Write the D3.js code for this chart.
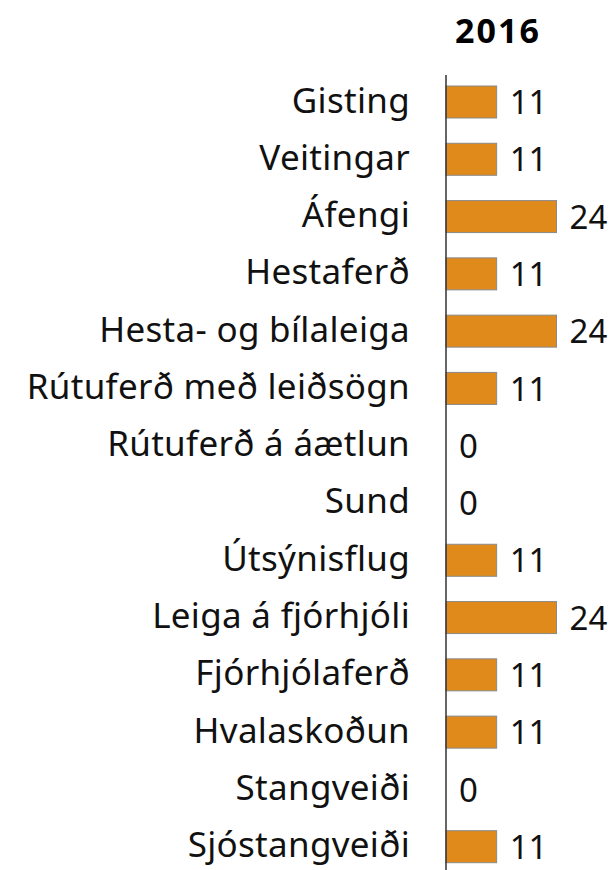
<!DOCTYPE html>
<html>
<head>
<meta charset="utf-8">
<script src="https://cdn.jsdelivr.net/npm/d3@7"></script>
<style>
  body { margin: 0; background: #fff; }
  text { font-family: "Noto Sans", "Open Sans", sans-serif; }
</style>
</head>
<body>
<div id="chart"></div>
<script>
var categories = ["Gisting", "Veitingar", "Áfengi", "Hestaferð", "Hesta- og bílaleiga",
  "Rútuferð með leiðsögn", "Rútuferð á áætlun", "Sund", "Útsýnisflug", "Leiga á fjórhjóli",
  "Fjórhjólaferð", "Hvalaskoðun", "Stangveiði", "Sjóstangveiði"];
var values = [11, 11, 24, 11, 24, 11, 0, 0, 11, 24, 11, 11, 0, 11];
var title = "2016";

var width = 615, height = 870;
var svg = d3.select("#chart").append("svg")
  .attr("width", width).attr("height", height);

// scales
var x = d3.scaleLinear().domain([0, 24]).range([446, 556.5]);
var y = d3.scalePoint().domain(categories).range([102, 846.7]);
var barH = 32;

// title
svg.append("text")
  .attr("x", 498).attr("y", 43)
  .attr("text-anchor", "middle")
  .attr("font-size", 34).attr("font-weight", "bold")
  .attr("letter-spacing", 2)
  .text(title);

// bars
svg.selectAll("rect.bar")
  .data(values)
  .enter().append("rect")
  .attr("class", "bar")
  .attr("x", x(0))
  .attr("y", function (d, i) { return y(categories[i]) - barH / 2; })
  .attr("width", function (d) { return x(d) - x(0); })
  .attr("height", barH)
  .attr("fill", "#DF8A1B")
  .attr("stroke", function (d) { return d > 0 ? "#8a8a8a" : "none"; })
  .attr("stroke-width", 1);

// axis line
svg.append("line")
  .attr("x1", x(0)).attr("x2", x(0))
  .attr("y1", 75).attr("y2", height)
  .attr("stroke", "#333").attr("stroke-width", 1.5);

// category labels
svg.selectAll("text.cat")
  .data(categories)
  .enter().append("text")
  .attr("class", "cat")
  .attr("x", 410)
  .attr("y", function (d) { return y(d); })
  .attr("dy", "0.3em")
  .attr("text-anchor", "end")
  .attr("font-size", 35)
  .attr("letter-spacing", 0.3)
  .attr("fill", "#111")
  .text(function (d) { return d; });

// value labels
svg.selectAll("text.val")
  .data(values)
  .enter().append("text")
  .attr("class", "val")
  .attr("x", function (d) { return x(d) + 13; })
  .attr("y", function (d, i) { return y(categories[i]); })
  .attr("dy", "0.37em")
  .attr("font-size", 33)
  .attr("fill", "#111")
  .text(function (d) { return d; });
</script>
</body>
</html>
